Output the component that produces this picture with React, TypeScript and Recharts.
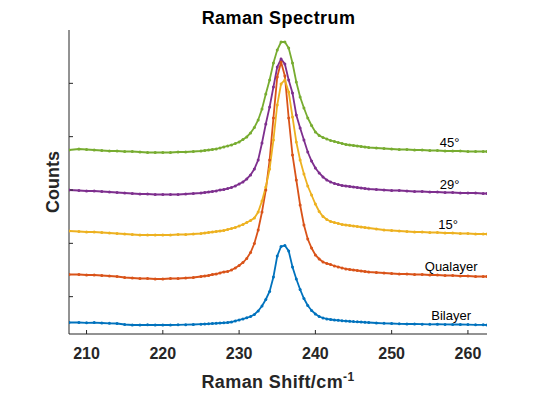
import { LineChart, Line, XAxis, YAxis, ReferenceDot } from "recharts";

// Raman shift (cm^-1), denser around the peak
const shifts = [
  207.7, 209, 210, 211, 212, 213, 214, 215, 216, 217, 218, 219, 220, 221, 222, 223, 224,
  225, 225.5, 226, 226.5, 227, 227.5, 228, 228.5, 229, 229.5, 230, 230.5, 231, 231.5, 232, 232.5,
  233, 233.5, 234, 234.5, 235, 235.5, 236, 236.5, 237, 237.5, 238, 238.5, 239, 239.5, 240, 240.5,
  241, 241.5, 242, 242.5, 243, 243.5, 244, 244.5, 245, 245.5, 246, 246.5, 247,
  248, 249, 250, 251, 252, 253, 254, 255, 256, 257, 258, 259, 260, 261, 262, 262.5,
];

const bilayer = [
  1031, 1031, 1020, 1028, 1013, 1001, 994, 956, 938, 938, 945, 938, 938, 938, 945, 949, 956,
  968, 975, 983, 994, 1001, 1013, 1020, 1031, 1050, 1088, 1125, 1163, 1208, 1256, 1331, 1463,
  1650, 1894, 2194, 2738, 3525, 3881, 3919, 3713, 3113, 2663, 2269, 1931, 1669, 1481, 1350, 1256,
  1200, 1163, 1144, 1125, 1114, 1099, 1088, 1076, 1065, 1058, 1050, 1039, 1031,
  1013, 1001, 994, 983, 975, 975, 968, 964, 968, 960, 956, 956, 953, 945, 945, 938,
];

const qualayer = [
  2831, 2831, 2813, 2813, 2794, 2775, 2756, 2719, 2700, 2681, 2681, 2663, 2663, 2681, 2681, 2700, 2719,
  2756, 2775, 2794, 2831, 2850, 2888, 2925, 2944, 3000, 3075, 3169, 3281, 3431, 3656, 3994, 4500,
  5175, 6000, 7125, 8700, 10238, 10800, 10275, 8700, 7313, 6375, 5438, 4688, 4163, 3825, 3563, 3413,
  3300, 3244, 3206, 3150, 3113, 3075, 3038, 3019, 3000, 2981, 2963, 2944, 2925,
  2906, 2888, 2869, 2850, 2850, 2831, 2831, 2813, 2813, 2794, 2794, 2775, 2775, 2756, 2756, 2756,
];

const deg15 = [
  4463, 4444, 4425, 4425, 4406, 4388, 4369, 4350, 4331, 4313, 4313, 4313, 4313, 4313, 4331, 4331, 4350,
  4369, 4388, 4406, 4425, 4444, 4463, 4481, 4519, 4556, 4594, 4650, 4706, 4781, 4856, 4950, 5175,
  5588, 6113, 6788, 7875, 9188, 9975, 10125, 9675, 8738, 7800, 7125, 6600, 6150, 5813, 5475, 5194,
  5006, 4894, 4819, 4781, 4744, 4706, 4688, 4669, 4650, 4631, 4613, 4594, 4575,
  4538, 4500, 4481, 4463, 4444, 4425, 4425, 4406, 4406, 4388, 4388, 4369, 4369, 4350, 4350, 4350,
];

const deg29 = [
  6000, 5981, 5963, 5963, 5944, 5925, 5906, 5888, 5869, 5850, 5850, 5831, 5831, 5831, 5831, 5850, 5869,
  5888, 5906, 5925, 5944, 5963, 6000, 6019, 6056, 6094, 6150, 6225, 6300, 6413, 6563, 6788, 7125,
  7763, 8475, 9113, 9863, 10613, 10913, 10725, 10125, 9638, 8813, 8325, 7875, 7425, 7088, 6825, 6638,
  6488, 6375, 6300, 6244, 6206, 6169, 6150, 6131, 6113, 6094, 6075, 6056, 6038,
  6019, 6000, 5981, 5981, 5963, 5944, 5944, 5925, 5925, 5906, 5906, 5888, 5888, 5888, 5869, 5869,
];

const deg45 = [
  7500, 7538, 7519, 7500, 7481, 7463, 7463, 7444, 7444, 7425, 7406, 7406, 7406, 7406, 7425, 7425, 7444,
  7463, 7481, 7500, 7519, 7538, 7575, 7613, 7650, 7688, 7744, 7800, 7894, 7988, 8138, 8344, 8625,
  9038, 9600, 10125, 10763, 11250, 11550, 11550, 11325, 10763, 10050, 9488, 9075, 8700, 8419, 8175, 8044,
  7969, 7913, 7856, 7819, 7781, 7744, 7706, 7688, 7669, 7650, 7631, 7613, 7594,
  7575, 7556, 7538, 7519, 7519, 7500, 7500, 7481, 7481, 7463, 7463, 7463, 7444, 7444, 7444, 7444,
];

const curveNames = ["Bilayer", "Qualayer", "15°", "29°", "45°"];
// where each curve's name sits (shift, counts)
const nameShift = [257.8, 257.8, 257.4, 257.6, 257.6];
const nameCounts = [1313, 3150, 4725, 6225, 7781];

const xTicks = [210, 220, 230, 240, 250, 260];
const yTicks = [2000, 4000, 6000, 8000, 10000];

const INK = "#262626";
const FONT = "'Liberation Sans', Arial, Helvetica, sans-serif";

const data = shifts.map((x, i) => ({
  x,
  bilayer: bilayer[i],
  qualayer: qualayer[i],
  deg15: deg15[i],
  deg29: deg29[i],
  deg45: deg45[i],
}));

const series = [
  { key: "bilayer", color: "#0072BD" },
  { key: "qualayer", color: "#D95319" },
  { key: "deg15", color: "#EDB120" },
  { key: "deg29", color: "#7E2F8E" },
  { key: "deg45", color: "#77AC30" },
];

function XTitle() {
  return (
    <text
      x={278}
      y={388}
      textAnchor="middle"
      fontFamily={FONT}
      fontSize={18}
      fontWeight="bold"
      letterSpacing={0.4}
      fill={INK}
    >
      Raman Shift/cm
      <tspan dy={-7} fontSize={12}>-1</tspan>
    </text>
  );
}

function YTitle() {
  return (
    <text
      x={59}
      y={182}
      transform="rotate(-90, 59, 182)"
      textAnchor="middle"
      fontFamily={FONT}
      fontSize={18}
      fontWeight="bold"
      fill={INK}
    >
      Counts
    </text>
  );
}

export default function App() {
  return (
    <div style={{ position: "absolute", left: 0, top: 0, width: 538, height: 395, background: "#fff" }}>
      <LineChart
        width={538}
        height={395}
        data={data}
        margin={{ top: 30, right: 51, bottom: 60, left: 69 }}
        style={{ fontFamily: FONT }}
      >
        <text
          x={278.5}
          y={23.5}
          textAnchor="middle"
          fontFamily={FONT}
          fontSize={18}
          fontWeight="bold"
          letterSpacing={0.4}
          fill="#000"
        >
          Raman Spectrum
        </text>
        <XTitle />
        <YTitle />
        <XAxis
          dataKey="x"
          type="number"
          domain={[207.7, 262.5]}
          ticks={xTicks}
          allowDataOverflow
          height={1}
          tickSize={-4}
          tickMargin={18}
          stroke={INK}
          tick={{ fontSize: 16, fontWeight: "bold", fill: INK, fontFamily: FONT }}
        />
        <YAxis
          type="number"
          domain={[600, 12000]}
          ticks={yTicks}
          allowDataOverflow
          width={1}
          mirror
          tickSize={4}
          stroke={INK}
          tickFormatter={() => ""}
        />
        {series.map((s) => (
          <Line
            key={s.key}
            type="linear"
            dataKey={s.key}
            stroke={s.color}
            strokeWidth={1.8}
            dot={{ r: 1.5, fill: s.color, stroke: "none" }}
            isAnimationActive={false}
          />
        ))}
        {curveNames.map((name, i) => (
          <ReferenceDot
            key={name}
            x={nameShift[i]}
            y={nameCounts[i]}
            r={0}
            fill="none"
            stroke="none"
            label={{ value: name, position: "center", fill: "#000", fontSize: 13, fontFamily: FONT }}
          />
        ))}
      </LineChart>
    </div>
  );
}
